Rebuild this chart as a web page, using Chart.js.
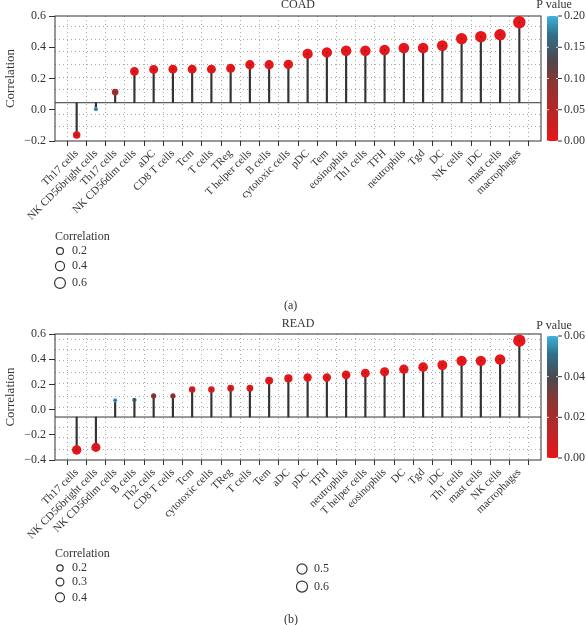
<!DOCTYPE html>
<html>
<head>
<meta charset="utf-8">
<script src="https://cdn.jsdelivr.net/npm/chart.js@4"></script>
<style>
  body { margin: 0; background: #fff; width: 586px; height: 625px; position: relative; overflow: hidden; font-family: 'Liberation Serif', serif; }
  canvas { position: absolute; left: 0; }
  #coad { top: 0; }
  #read { top: 300px; }
  .tag { position: absolute; font-size: 12px; line-height: 12px; color: #333; }
</style>
</head>
<body>
<canvas id="coad" width="586" height="300"></canvas>
<canvas id="read" width="586" height="325"></canvas>
<div class="tag" style="left:284px;top:299px">(a)</div>
<div class="tag" style="left:284px;top:613px">(b)</div>
<script>
// COAD panel
const coadCells = ['Th17 cells', 'NK CD56bright cells', 'Th17 cells', 'NK CD56dim cells', 'aDC', 'CD8 T cells', 'Tcm', 'T cells',
  'TReg', 'T helper cells', 'B cells', 'cytotoxic cells', 'pDC', 'Tem', 'eosinophils', 'Th1 cells', 'TFH', 'neutrophils',
  'Tgd', 'DC', 'NK cells', 'iDC', 'mast cells', 'macrophages'];
const coadCorr = [-0.162, 0.004, 0.113, 0.245, 0.258, 0.26, 0.26, 0.26, 0.265, 0.288, 0.288, 0.29,
  0.357, 0.367, 0.378, 0.378, 0.383, 0.395, 0.395, 0.41, 0.455, 0.468, 0.48, 0.56];
const coadP = [0.004, 0.19, 0.07, 0.001, 0.001, 0.001, 0.001, 0.001, 0.001, 0, 0, 0,
  0, 0, 0, 0, 0, 0, 0, 0, 0, 0, 0, 0];
const coadPTicks = [0, 0.05, 0.1, 0.15, 0.2];
const coadSizeLegend = [0.2, 0.4, 0.6];

// READ panel
const readCells = ['Th17 cells', 'NK CD56bright cells', 'NK CD56dim cells', 'B cells', 'Th2 cells', 'CD8 T cells', 'Tcm',
  'cytotoxic cells', 'TReg', 'T cells', 'Tem', 'aDC', 'pDC', 'TFH', 'neutrophils', 'T helper cells', 'eosinophils',
  'DC', 'Tgd', 'iDC', 'Th1 cells', 'mast cells', 'NK cells', 'macrophages'];
const readCorr = [-0.32, -0.30, 0.074, 0.077, 0.108, 0.108, 0.16, 0.16, 0.17, 0.17, 0.23, 0.247,
  0.255, 0.255, 0.276, 0.289, 0.30, 0.32, 0.337, 0.353, 0.387, 0.387, 0.398, 0.547];
const readP = [0.001, 0.002, 0.057, 0.048, 0.026, 0.027, 0.003, 0.003, 0.002, 0.002, 0.001, 0.001,
  0, 0, 0, 0, 0, 0, 0, 0, 0, 0, 0, 0];
const readPTicks = [0, 0.02, 0.04, 0.06];
const readSizeLegend = [0.2, 0.3, 0.4, 0.5, 0.6];

Chart.defaults.font.family = "'Liberation Serif', serif";
Chart.defaults.color = '#333';

// red -> grey -> blue, like the P value bar
const pStops = [[0, [230, 22, 26]], [0.45, [145, 52, 50]], [0.65, [78, 72, 76]], [0.85, [48, 112, 140]], [1, [62, 178, 218]]];
function pColor(t) {
  t = Math.max(0, Math.min(1, t));
  for (let i = 1; i < pStops.length; i++) {
    if (t <= pStops[i][0]) {
      const [t0, c0] = pStops[i - 1], [t1, c1] = pStops[i];
      const f = (t - t0) / (t1 - t0);
      return 'rgb(' + c0.map((c, k) => Math.round(c + (c1[k] - c) * f)).join(',') + ')';
    }
  }
  return 'rgb(62,178,218)';
}

function makePanel(id, p) {
  const abs = p.corr.map(Math.abs);
  const cmin = Math.min(...abs), cmax = Math.max(...abs);
  const radius = c => Math.sqrt(4.5 + 34 * (Math.abs(c) - cmin) / (cmax - cmin));

  const panelPlugin = {
    id: 'panel' + id,
    beforeDatasetsDraw(chart) {
      const { ctx, chartArea: a, scales: { y } } = chart;
      ctx.save();
      // dotted background rows
      ctx.strokeStyle = '#a8a8a8';
      ctx.lineWidth = 1;
      ctx.setLineDash([1, 3]);
      p.gridY.forEach(v => {
        const py = Math.round(y.getPixelForValue(v)) + 0.5;
        ctx.beginPath(); ctx.moveTo(a.left, py); ctx.lineTo(a.right, py); ctx.stroke();
      });
      ctx.setLineDash([]);
      // base line the stems hang from
      ctx.strokeStyle = '#333';
      const by = y.getPixelForValue(p.base);
      ctx.beginPath(); ctx.moveTo(a.left, by); ctx.lineTo(a.right, by); ctx.stroke();
      ctx.strokeRect(a.left, a.top, a.right - a.left, a.bottom - a.top);
      ctx.restore();
    },
    afterDraw(chart) {
      const { ctx, chartArea: a } = chart;
      ctx.save();
      ctx.fillStyle = '#333';
      ctx.font = "12px 'Liberation Serif', serif";
      ctx.textAlign = 'center';
      ctx.textBaseline = 'middle';
      ctx.fillText(p.title, (a.left + a.right) / 2, p.titleY);

      // P value colour bar
      const bx = a.right + 6, bw = 11, top = a.top + p.barInset, bot = a.bottom - p.barInset;
      const g = ctx.createLinearGradient(0, bot, 0, top);
      pStops.forEach(s => g.addColorStop(s[0], 'rgb(' + s[1].join(',') + ')'));
      ctx.fillStyle = g;
      ctx.fillRect(bx, top, bw, bot - top);
      ctx.fillStyle = '#333';
      ctx.fillText('P value', bx + 7, p.titleY + p.pTitleDy);
      ctx.textAlign = 'left';
      p.pTicks.forEach(v => {
        const ty = bot - (v / p.pMax) * (bot - top);
        ctx.strokeStyle = 'rgba(255,255,255,0.8)';
        ctx.beginPath(); ctx.moveTo(bx, ty); ctx.lineTo(bx + 2, ty); ctx.moveTo(bx + bw - 2, ty); ctx.lineTo(bx + bw, ty); ctx.stroke();
        ctx.strokeStyle = '#333';
        ctx.beginPath(); ctx.moveTo(bx + bw, ty); ctx.lineTo(bx + bw + 4, ty); ctx.stroke();
        ctx.fillText(v.toFixed(2), bx + bw + 6, ty);
      });

      // size legend
      ctx.fillText('Correlation', 55, p.legendY);
      ctx.lineWidth = 1.2;
      let cx = 60, cy = p.legendY + 14, prev = null;
      p.sizeLegend.forEach((v, i) => {
        const r = radius(v) * 0.85;
        if (i === p.legendBreak) { cx = p.legendCol2X; cy = p.legendCol2Y; prev = null; }
        else if (prev !== null) cy += prev + r + 7;
        ctx.beginPath(); ctx.arc(cx, cy, r, 0, Math.PI * 2); ctx.stroke();
        ctx.fillText(v.toFixed(1), cx + 12, cy);
        prev = r;
      });
      ctx.restore();
    }
  };

  const idx = p.cells.map((c, i) => i);
  new Chart(document.getElementById(id), {
    type: 'bar',
    data: {
      datasets: [
        {
          type: 'line', order: 0, showLine: false,
          data: p.corr.map((v, i) => ({ x: i, y: v })),
          pointRadius: 0.7, pointBackgroundColor: '#333', pointBorderWidth: 0
        },
        {
          type: 'line', order: 1, showLine: false,
          data: p.corr.map((v, i) => ({ x: i, y: v })),
          pointRadius: p.corr.map(radius),
          pointBackgroundColor: p.pvals.map(v => pColor(v / p.pMax)),
          pointBorderWidth: 0
        },
        {
          order: 2,
          data: p.corr.map((v, i) => ({ x: i, y: [p.base, v] })),
          backgroundColor: '#333',
          barThickness: 1.5
        }
      ]
    },
    options: {
      responsive: false,
      animation: false,
      events: [],
      layout: { padding: { top: p.padTop, right: 45, left: 0, bottom: 0 } },
      plugins: { legend: { display: false }, tooltip: { enabled: false } },
      scales: {
        x: {
          type: 'linear', min: -0.6, max: p.cells.length - 0.4,
          afterBuildTicks: s => { s.ticks = idx.map(i => ({ value: i })); },
          afterFit: s => { s.height = p.xHeight; },
          ticks: {
            autoSkip: false, minRotation: 45, maxRotation: 45, padding: 1,
            font: { size: 11 }, color: '#333',
            callback: v => p.cells[Math.round(v)]
          },
          grid: { color: '#a8a8a8', tickColor: '#333', tickLength: 5 },
          border: { display: false, dash: [1, 3] }
        },
        y: {
          min: p.yMin, max: p.yMax,
          afterFit: s => { s.width = 55; },
          ticks: {
            stepSize: 0.2, padding: 3, font: { size: 12 }, color: '#333',
            callback: v => v.toFixed(1).replace('-', '\u2212')
          },
          grid: { drawOnChartArea: false, tickColor: '#333', tickLength: 6 },
          border: { display: false },
          title: { display: true, text: 'Correlation', font: { size: 13 }, color: '#333', padding: { top: 3, bottom: 0 } }
        }
      }
    },
    plugins: [panelPlugin]
  });
}

makePanel('coad', {
  title: 'COAD', cells: coadCells, corr: coadCorr, pvals: coadP, pMax: 0.2, pTicks: coadPTicks,
  sizeLegend: coadSizeLegend, legendBreak: -1,
  yMin: -0.2, yMax: 0.6, base: 0.045,
  gridY: [0.534, 0.455, 0.379, 0.296, 0.212, 0.132, -0.027, -0.103],
  padTop: 16, xHeight: 159, titleY: 5, pTitleDy: 0, barInset: 0, legendY: 237
});

makePanel('read', {
  title: 'READ', cells: readCells, corr: readCorr, pvals: readP, pMax: 0.06, pTicks: readPTicks,
  sizeLegend: readSizeLegend, legendBreak: 3, legendCol2X: 302, legendCol2Y: 269,
  yMin: -0.4, yMax: 0.6, base: -0.059,
  gridY: [0.558, 0.478, 0.393, 0.30, 0.21, 0.106, 0.02, -0.139, -0.22, -0.31],
  padTop: 34, xHeight: 165, titleY: 24, pTitleDy: 2, barInset: 2, legendY: 254
});
</script>
</body>
</html>
